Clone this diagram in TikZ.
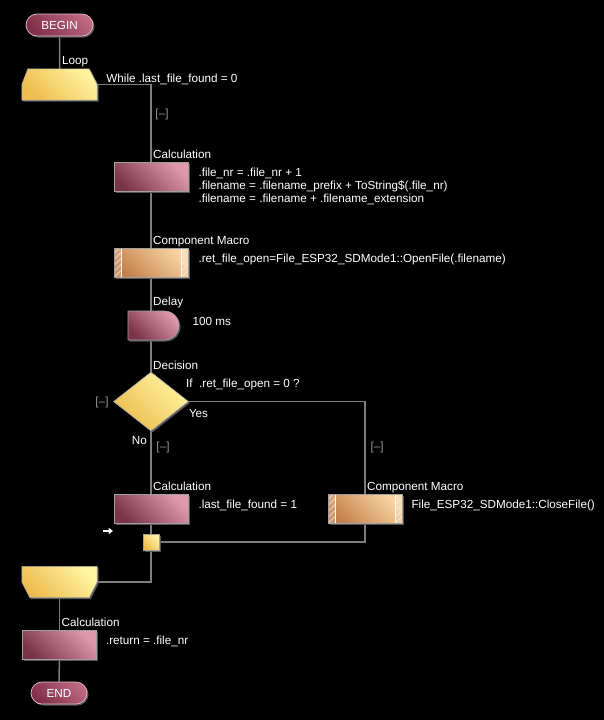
\documentclass[tikz,border=0pt]{standalone}
\usepackage{fontspec}
\setmainfont{Liberation Sans}
\usepackage{tikz}
\usetikzlibrary{shapes.geometric,shapes.misc,shadows,calc,arrows.meta}
\definecolor{calcdark}{RGB}{122,52,72}
\definecolor{calclight}{RGB}{224,152,172}
\definecolor{pilldark}{RGB}{128,48,74}
\definecolor{pilllight}{RGB}{190,104,130}
\definecolor{pilledge}{RGB}{225,190,200}
\definecolor{cmdark}{RGB}{196,128,76}
\definecolor{cmlight}{RGB}{248,212,162}
\definecolor{yeldark}{RGB}{238,188,78}
\definecolor{yellight}{RGB}{255,244,160}
\definecolor{boxedge}{RGB}{160,160,160}
\definecolor{shadowgray}{RGB}{85,85,85}
\definecolor{wiregray}{RGB}{125,125,125}
\definecolor{markgray}{RGB}{150,150,150}
\pgfdeclarelayer{canvas}
\pgfdeclarelayer{wires}
\pgfsetlayers{canvas,wires,main}

\begin{document}
\begin{tikzpicture}[
    x=1pt, y=-1pt,
    every node/.style={font=\fontsize{11.7}{13}\selectfont, text=white},
    boxshadow/.style={drop shadow={shadow xshift=1.5pt, shadow yshift=-1.5pt, fill=shadowgray, opacity=1}},
    wire/.style={draw=wiregray, line width=1.5pt},
    pinkshade/.style={left color=calcdark, right color=calclight, shading angle=135},
    cmshade/.style={left color=cmdark, right color=cmlight, shading angle=135},
    yelshade/.style={left color=yeldark, right color=yellight, shading angle=135},
    calcbox/.style={rectangle, minimum width=74pt, minimum height=29pt, inner sep=0pt, draw=boxedge, line width=0.6pt, pinkshade, boxshadow},
    cmbox/.style={rectangle, minimum width=74pt, minimum height=29pt, inner sep=0pt, draw=boxedge, line width=0.6pt, cmshade, boxshadow,
        path picture={
            \fill[white, opacity=0.18] (path picture bounding box.south west) rectangle ([xshift=7pt]path picture bounding box.north west)
                ([xshift=-7pt]path picture bounding box.south east) rectangle (path picture bounding box.north east);
            \draw[white!80!cmlight, line width=0.6pt]
                ([xshift=7pt]path picture bounding box.south west) -- ([xshift=7pt]path picture bounding box.north west)
                ([xshift=-7pt]path picture bounding box.south east) -- ([xshift=-7pt]path picture bounding box.north east);
            \foreach \k in {-1,...,5} {
                \draw[white!60!cmlight, line width=0.4pt] ([yshift=\k*6pt]path picture bounding box.south west) -- ++(7pt,7pt);
                \draw[white!60!cmlight, line width=0.4pt] ([xshift=-7pt, yshift=\k*6pt]path picture bounding box.south east) -- ++(7pt,7pt);
            }
        }},
    pill/.style={rounded rectangle, minimum width=67pt, minimum height=22pt, inner sep=0pt, draw=pilledge, line width=0.7pt,
        left color=pilldark, right color=pilllight, shading angle=135, boxshadow},
    delaybox/.style={rounded rectangle, rounded rectangle left arc=none, minimum width=51pt, minimum height=29pt, inner sep=0pt,
        draw=boxedge, line width=0.6pt, pinkshade, boxshadow},
    decbox/.style={diamond, minimum width=75pt, minimum height=59pt, inner sep=0pt, draw=boxedge, line width=0.6pt, yelshade, boxshadow},
    loopframe/.style={rectangle, minimum width=75pt, minimum height=31pt, inner sep=0pt},
    captxt/.style={anchor=base west, inner sep=0pt},
    txt/.style={anchor=north west, inner sep=0pt, align=left},
    marker/.style={inner sep=0pt, text=markgray}
]

    % background
    \begin{pgfonlayer}{canvas}
        \fill[black] (0,0) rectangle (604,720);
    \end{pgfonlayer}
    \useasboundingbox (0,0) rectangle (604,720);

    % start and loop head
    \node (begin) [pill] at (59.5,25) {BEGIN};
    \node (loopA) [loopframe] at (59.5,84.5) {};
    \shade[yelshade, draw=boxedge, line width=0.6pt, boxshadow] (loopA.south west) -- (loopA.west) -- ($(loopA.north west)+(6,0)$)
        -- ($(loopA.north east)+(-8,0)$) -- (loopA.east) -- (loopA.south east) -- cycle;
    \node (loopAcap) [captxt] at ($(loopA.north)+(2.5,-4)$) {Loop};
    \node (loopAtxt) [captxt] at ($(loopA.north east)+(9,14)$) {While .last\_file\_found = 0};
    \node (mk1) [marker] at (162,114) {[–]};

    % loop body
    \node (calc1) [calcbox] at (151,177) {};
    \node (calc1cap) [captxt] at ($(calc1.north)+(2,-4)$) {Calculation};
    \node (calc1txt) [txt] at ($(calc1.north east)+(10,5.5)$) {.file\_nr = .file\_nr + 1\\.filename = .filename\_prefix + ToString\$(.file\_nr)\\.filename = .filename + .filename\_extension};

    \node (cm1) [cmbox] at (151,263) {};
    \node (cm1cap) [captxt] at ($(cm1.north)+(2,-4)$) {Component Macro};
    \node (cm1txt) [txt] at ($(cm1.north east)+(10,5.5)$) {.ret\_file\_open=File\_ESP32\_SDMode1::OpenFile(.filename)};

    \node (delay) [delaybox] at (153.5,325.5) {};
    \node (delaycap) [captxt] at ($(delay.north)+(-0.5,-5)$) {Delay};
    \node (delaytxt) [captxt] at ($(delay.east)+(13,0)$) {100 ms};

    \node (dec) [decbox] at (151,401.5) {};
    \node (deccap) [captxt] at ($(dec.north)+(2,-2)$) {Decision};
    \node (dectxt) [captxt] at ($(dec.north)+(35,16)$) {If~~.ret\_file\_open = 0 ?};
    \node (yes) [captxt] at ($(dec.east)+(0,15.5)$) {Yes};
    \node (no) [anchor=base east, inner sep=0pt] at ($(dec.south)+(-4,13)$) {No};
    \node (mk2) [marker] at (102,402) {[–]};
    \node (mk3) [marker] at (163,447) {[–]};
    \node (mk4) [marker] at (377,447) {[–]};

    \node (calc2) [calcbox] at (151,509) {};
    \node (calc2cap) [captxt] at ($(calc2.north)+(2,-4)$) {Calculation};
    \node (calc2txt) [txt] at ($(calc2.north east)+(10,5.5)$) {.last\_file\_found = 1};

    \node (cm2) [cmbox] at (365,509) {};
    \node (cm2cap) [captxt] at ($(cm2.north)+(2,-4)$) {Component Macro};
    \node (cm2txt) [txt] at ($(cm2.north east)+(9,5.5)$) {File\_ESP32\_SDMode1::CloseFile()};

    \node (junc) [rectangle, minimum size=16pt, inner sep=0pt, draw=boxedge, line width=0.6pt, yelshade, boxshadow] at (151,542) {};
    \draw[white, line width=1.7pt, -{Triangle[length=4.5pt, width=6.5pt]}] (102.5,531) -- (113,531);

    % loop tail and end
    \node (loopB) [loopframe] at (59.5,582) {};
    \shade[yelshade, draw=boxedge, line width=0.6pt, boxshadow] (loopB.north west) -- (loopB.north east) -- (loopB.east)
        -- ($(loopB.south east)+(-8,0)$) -- ($(loopB.south west)+(8,0)$) -- (loopB.west) -- cycle;

    \node (calc3) [calcbox] at (59.5,645) {};
    \node (calc3cap) [captxt] at ($(calc3.north)+(2,-4)$) {Calculation};
    \node (calc3txt) [txt] at ($(calc3.north east)+(9,5.5)$) {.return = .file\_nr};

    \node (endn) [pill, minimum width=56pt] at (59,693) {END};

    % connectors
    \begin{pgfonlayer}{wires}
        \draw[wire] (begin) -- (loopA);
        \draw[wire] (loopA.east) -| (calc1.north);
        \draw[wire] (calc1) -- (cm1);
        \draw[wire] (cm1.south) -- (dec.north);
        \draw[wire] (dec.east) -| (cm2.north);
        \draw[wire] (dec.south) -- (calc2.north);
        \draw[wire] (calc2.south) -- (junc.north);
        \draw[wire] (cm2.south) |- (junc.east);
        \draw[wire] (junc.south) |- (loopB.east);
        \draw[wire] (loopB) -- (calc3);
        \draw[wire] (calc3) -- (endn);
    \end{pgfonlayer}

\end{tikzpicture}
\end{document}
